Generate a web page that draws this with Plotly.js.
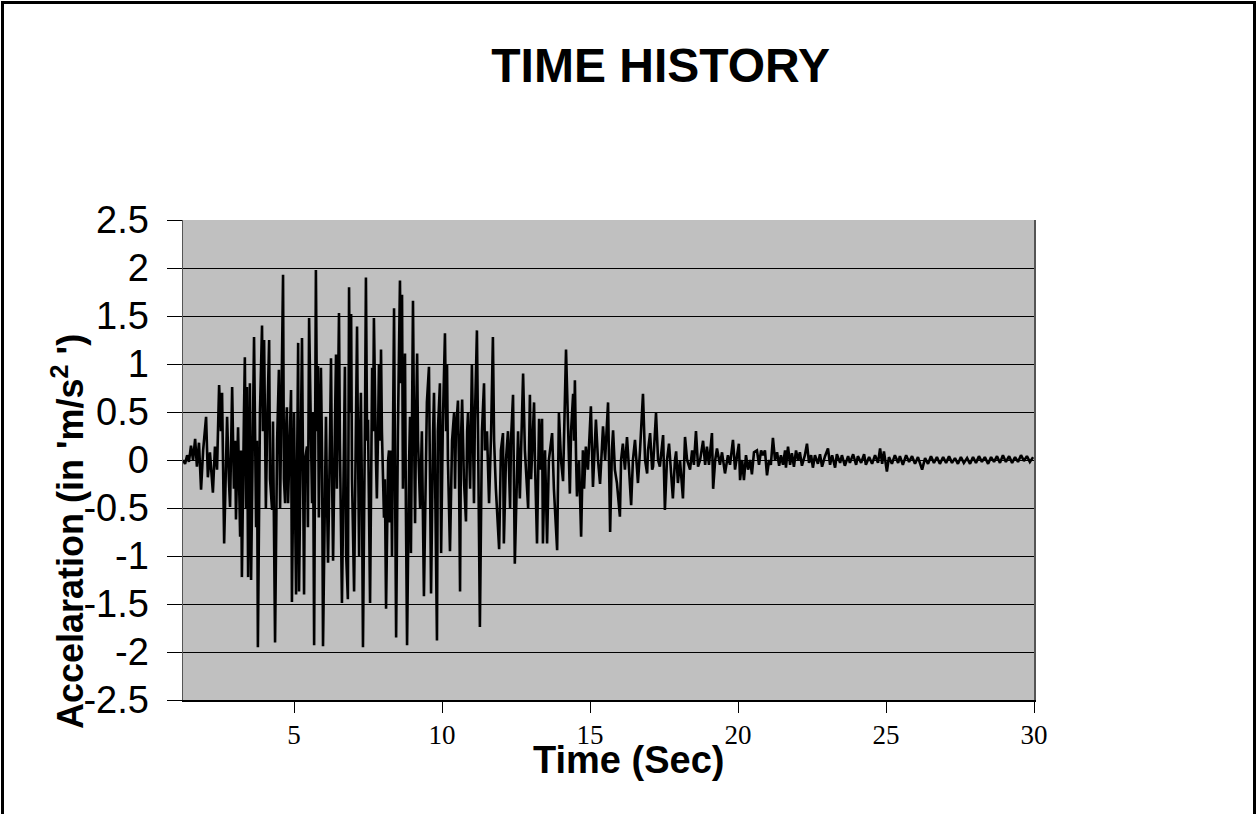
<!DOCTYPE html>
<html>
<head>
<meta charset="utf-8">
<script src="https://cdn.plot.ly/plotly-3.0.1.min.js"></script>
<style>
  html, body { margin: 0; padding: 0; background: #fff; overflow: hidden; }
  #chart { position: absolute; left: 0; top: 0; width: 1256px; height: 814px; }
  #frame { position: absolute; left: 1px; top: 1px; width: 1249px; height: 900px;
           border: 3px solid #000; pointer-events: none; }
</style>
</head>
<body>
<div id="chart"></div>
<div id="frame"></div>
<script>
// Time (s) and acceleration (m/s^2) (turning points)
const timeSec = [
1.25,1.32,1.39,1.45,1.52,1.59,1.66,1.72,1.79,1.86,1.93,2.03,2.09,2.16,2.26,2.33,2.40,2.47,2.53,2.57,
2.64,2.70,2.74,2.80,2.84,2.91,2.97,3.01,3.04,3.11,3.18,3.21,3.24,3.31,3.34,3.38,3.41,3.45,3.48,3.51,
3.55,3.61,3.65,3.72,3.75,3.78,3.85,3.92,3.95,3.99,4.05,4.09,4.16,4.19,4.26,4.29,4.36,4.43,4.49,4.53,
4.56,4.63,4.66,4.70,4.73,4.76,4.80,4.86,4.90,4.93,4.97,5.00,5.07,5.10,5.14,5.17,5.24,5.27,5.34,5.37,
5.44,5.47,5.51,5.57,5.61,5.64,5.68,5.74,5.78,5.81,5.84,5.91,5.95,5.98,6.05,6.08,6.11,6.15,6.22,6.25,
6.28,6.32,6.39,6.42,6.45,6.52,6.55,6.62,6.69,6.72,6.76,6.82,6.86,6.89,6.93,6.96,7.03,7.09,7.13,7.16,
7.20,7.23,7.26,7.30,7.33,7.40,7.43,7.47,7.50,7.57,7.60,7.64,7.67,7.70,7.77,7.80,7.84,7.87,7.91,7.94,
7.97,8.04,8.07,8.11,8.18,8.21,8.24,8.28,8.31,8.34,8.38,8.41,8.45,8.51,8.58,8.61,8.65,8.68,8.72,8.75,
8.78,8.82,8.89,8.92,8.95,8.99,9.02,9.05,9.09,9.12,9.16,9.19,9.26,9.32,9.39,9.46,9.49,9.56,9.59,9.63,
9.70,9.73,9.76,9.83,9.86,9.93,9.97,10.03,10.10,10.14,10.17,10.20,10.27,10.34,10.41,10.44,10.47,10.54,10.57,10.61,
10.64,10.68,10.74,10.81,10.85,10.88,10.95,11.01,11.05,11.08,11.11,11.18,11.22,11.28,11.35,11.42,11.45,11.52,11.59,11.66,
11.72,11.76,11.82,11.93,11.99,12.06,12.09,12.16,12.23,12.30,12.33,12.40,12.46,12.53,12.57,12.63,12.74,12.80,12.91,12.97,
13.01,13.11,13.14,13.21,13.28,13.31,13.38,13.41,13.48,13.55,13.61,13.72,13.78,13.89,13.95,14.02,14.09,14.19,14.26,14.32,
14.36,14.43,14.46,14.49,14.53,14.56,14.63,14.70,14.76,14.80,14.86,14.93,15.03,15.10,15.20,15.27,15.34,15.44,15.51,15.61,
15.68,15.74,15.78,15.84,15.91,16.01,16.05,16.11,16.18,16.25,16.32,16.39,16.45,16.52,16.59,16.62,16.69,16.72,16.79,16.86,
16.93,16.96,17.03,17.10,17.13,17.23,17.30,17.36,17.47,17.53,17.60,17.67,17.74,17.80,17.87,17.91,17.97,18.04,18.14,18.21,
18.28,18.38,18.45,18.51,18.58,18.65,18.72,18.82,18.89,18.95,19.02,19.12,19.16,19.23,19.29,19.39,19.46,19.56,19.66,19.73,
19.83,19.90,19.97,20.03,20.07,20.14,20.20,20.27,20.34,20.41,20.47,20.54,20.64,20.71,20.78,20.84,20.91,20.98,21.05,21.11,
21.18,21.25,21.32,21.39,21.45,21.52,21.59,21.62,21.69,21.76,21.82,21.89,21.96,22.03,22.09,22.16,22.26,22.33,22.40,22.47,
22.53,22.60,22.70,22.77,22.84,22.94,23.04,23.11,23.18,23.28,23.34,23.45,23.51,23.61,23.72,23.78,23.89,23.99,24.05,24.16,
24.26,24.32,24.43,24.53,24.63,24.73,24.80,24.87,24.93,25.03,25.10,25.20,25.30,25.41,25.47,25.57,25.68,25.78,25.88,25.98,
26.08,26.22,26.32,26.42,26.52,26.62,26.72,26.82,26.93,27.03,27.13,27.23,27.33,27.43,27.53,27.63,27.74,27.84,27.94,28.04,
28.14,28.24,28.34,28.45,28.55,28.65,28.75,28.85,28.95,29.05,29.16,29.26,29.36,29.46,29.56,29.66,29.76,29.86,29.97
];
const accel = [
0.0,-0.04,0.05,-0.02,0.15,0.0,0.22,-0.07,0.18,-0.31,0.1,0.45,-0.18,0.08,-0.34,0.14,-0.1,0.78,0.3,0.7,
-0.87,0.1,0.45,-0.2,-0.49,0.76,-0.3,0.2,-0.62,0.34,-0.80,0.1,-1.22,0.5,1.07,-0.5,0.76,-1.22,0.2,0.8,
-1.25,0.3,1.28,-0.7,0.2,-1.95,0.5,1.4,0.3,1.25,-0.5,0.3,1.25,-0.2,-0.52,0.4,-1.9,0.2,0.94,-0.5,
0.3,1.93,-0.2,-0.45,0.3,0.55,-0.45,0.2,0.73,-1.48,0.0,0.5,-1.4,0.3,1.22,-1.37,0.4,1.27,-1.4,0.0,
0.14,-0.7,1.48,0.2,-0.45,0.5,-1.93,1.98,0.3,0.98,-0.6,0.96,0.0,-1.94,0.2,0.45,-0.3,-1.07,0.3,1.06,
0.0,-1.05,0.5,1.1,-0.3,1.53,0.2,-1.49,0.2,0.97,-0.97,-1.45,1.8,0.5,1.52,-0.2,-1.37,0.2,1.39,0.2,
-1.0,0.2,0.7,-0.5,-1.95,0.5,1.9,0.2,0.42,-1.49,0.0,0.96,0.3,1.48,0.0,-0.4,0.3,1.0,0.2,1.15,
0.3,-0.6,-0.2,-1.55,0.0,0.1,-0.65,0.1,-1.0,0.4,1.58,0.0,-1.85,0.3,1.87,0.8,1.72,-0.3,0.3,1.11,
-0.5,-1.93,0.0,0.45,-0.97,0.3,1.66,0.5,-0.66,0.3,1.11,0.2,-0.5,0.3,-1.42,0.0,0.6,0.97,0.0,-1.39,
0.3,0.7,0.0,-1.88,0.3,0.8,-0.97,0.4,1.32,0.3,1.0,0.0,-0.95,0.2,0.5,-0.3,0.3,0.62,0.0,-1.37,
0.2,0.63,-0.2,-0.64,0.3,0.5,-0.3,1.0,0.2,-0.45,0.4,1.35,0.2,-1.74,0.3,0.8,0.1,0.3,-0.45,0.3,
1.28,0.2,-0.3,-0.93,0.1,0.28,-0.87,0.0,0.3,-0.5,0.2,0.68,-1.08,0.0,0.3,-0.4,0.9,0.1,-0.5,0.68,
-0.2,0.6,0.0,-0.87,0.43,-0.1,0.43,-0.87,0.1,-0.87,0.0,0.28,-0.3,-0.94,0.49,0.0,-0.22,1.15,0.2,-0.35,
0.3,0.69,0.2,0.83,0.0,-0.38,0.0,-0.8,0.1,-0.3,0.14,-0.1,0.56,-0.28,0.42,0.0,-0.25,0.35,0.0,0.6,
-0.75,0.1,0.31,-0.1,-0.24,-0.59,0.0,0.17,-0.1,0.24,-0.1,-0.47,0.0,0.21,-0.1,-0.24,0.1,0.28,0.69,0.0,
-0.14,0.1,0.28,-0.1,-0.07,0.49,0.0,-0.07,0.26,-0.52,0.0,0.17,-0.1,-0.4,0.0,0.09,-0.24,0.0,-0.4,0.24,
0.0,-0.1,0.1,-0.05,0.3,-0.07,0.0,0.2,-0.05,0.14,-0.05,0.28,-0.3,0.0,0.12,-0.05,0.08,-0.14,0.05,-0.05,
0.21,-0.1,0.05,0.17,-0.21,0.0,-0.21,0.05,-0.1,0.0,-0.15,0.08,0.1,-0.05,0.1,0.05,0.1,-0.16,0.0,-0.05,
0.23,0.0,0.08,-0.06,0.05,-0.05,0.1,-0.08,0.14,-0.05,0.07,-0.07,0.1,0.0,0.08,-0.06,0.05,0.17,-0.03,0.05,
-0.08,0.05,-0.04,0.06,-0.07,0.04,0.12,-0.05,0.05,-0.08,0.06,-0.03,0.05,-0.06,0.04,-0.03,0.06,-0.05,0.04,-0.03,
0.06,-0.05,0.03,-0.04,0.05,-0.03,0.12,-0.04,0.09,-0.12,0.03,-0.04,0.05,-0.03,0.04,-0.05,0.05,-0.02,0.04,-0.04,
0.03,-0.1,0.02,-0.04,0.04,-0.03,0.03,-0.04,0.03,-0.03,0.04,-0.03,0.02,-0.04,0.03,-0.03,0.02,-0.04,0.03,-0.03,
0.04,-0.02,0.03,-0.04,0.03,-0.02,0.04,-0.03,0.05,-0.02,0.04,-0.03,0.03,-0.02,0.05,-0.01,0.04,-0.02,0.03
];
const xTickVals = [5, 10, 15, 20, 25, 30];
const xTickText = ['5', '10', '15', '20', '25', '30'];
const yTickVals = [2.5, 2, 1.5, 1, 0.5, 0, -0.5, -1, -1.5, -2, -2.5];
const yTickText = ['2.5', '2', '1.5', '1', '0.5', '0', '-0.5', '-1', '-1.5', '-2', '-2.5'];

const sans = 'Liberation Sans, Arial, sans-serif';
const serif = 'Liberation Serif, Times New Roman, serif';

const data = [{
  x: timeSec, y: accel, type: 'scatter', mode: 'lines',
  line: { color: '#000000', width: 2.6 }, hoverinfo: 'skip', showlegend: false
}];

const layout = {
  width: 1256, height: 814,
  paper_bgcolor: '#ffffff', plot_bgcolor: '#c0c0c0',
  margin: { l: 183, r: 222, t: 220, b: 114 },
  showlegend: false,
  title: {
    text: '<b>TIME HISTORY</b>',
    font: { family: sans, size: 48, color: '#000' },
    xref: 'container', x: 0.526, xanchor: 'center',
    yref: 'container', y: 0.92, yanchor: 'middle'
  },
  xaxis: {
    range: [1.25, 30], tickmode: 'array', tickvals: xTickVals, ticktext: xTickText,
    ticks: 'outside', ticklen: 11, tickwidth: 1, tickcolor: '#000',
    showgrid: false, zeroline: false, showline: true, linecolor: '#000', linewidth: 1.5,
    tickfont: { family: serif, size: 27, color: '#000' }, ticklabelstandoff: -1
  },
  yaxis: {
    range: [-2.5, 2.5], tickmode: 'array', tickvals: yTickVals, ticktext: yTickText,
    ticks: 'outside', ticklen: 15, tickwidth: 1, tickcolor: '#000',
    showgrid: true, gridcolor: '#000', gridwidth: 1, zeroline: false,
    showline: true, mirror: true, linecolor: '#555', linewidth: 1.5,
    tickfont: { family: sans, size: 38, color: '#000' }, ticklabelstandoff: 10
  },
  annotations: [
    {
      text: '<b>Accelaration (in \'m/s<sup>2</sup> \')</b>', textangle: -90,
      xref: 'paper', yref: 'paper', x: -0.135, y: 0.35, xanchor: 'center', yanchor: 'middle',
      showarrow: false, font: { family: sans, size: 36, color: '#000' }
    },
    {
      text: '<b>Time (Sec)</b>',
      xref: 'paper', yref: 'paper', x: 0.523, y: -0.125, xanchor: 'center', yanchor: 'middle',
      showarrow: false, font: { family: sans, size: 38, color: '#000' }
    }
  ]
};

Plotly.newPlot('chart', data, layout, { staticPlot: true, displayModeBar: false });
</script>
</body>
</html>
